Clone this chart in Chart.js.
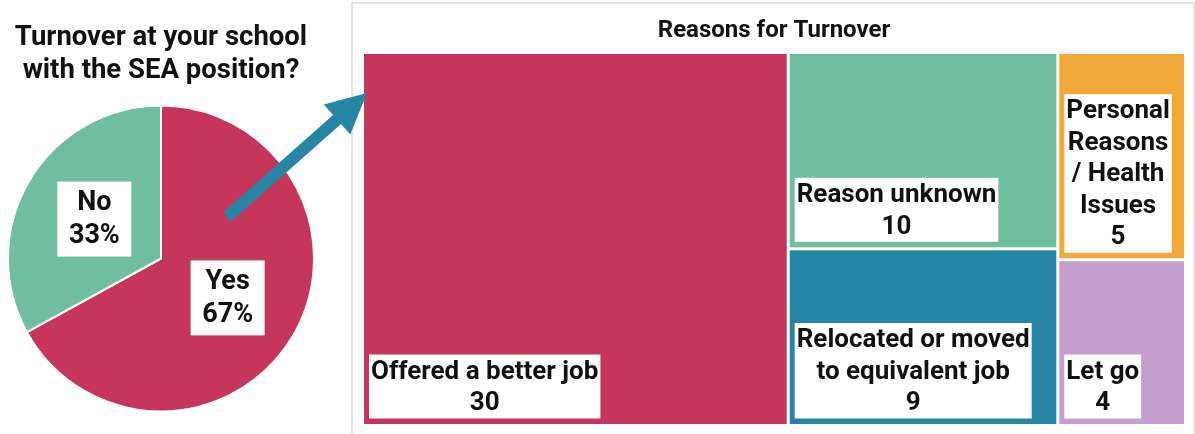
<!DOCTYPE html>
<html>
<head>
<meta charset="utf-8">
<script src="https://cdn.jsdelivr.net/npm/chart.js@4/dist/chart.umd.min.js"></script>
<style>
  body { margin: 0; background: #fff; }
  #pieBox { position: absolute; left: 0; top: 0; width: 380px; height: 434px; z-index: 2; }
  #treeBox { position: absolute; left: 340px; top: 0; width: 855px; height: 434px; z-index: 1; }
</style>
</head>
<body>
<div id="pieBox"><canvas id="pieChart"></canvas></div>
<div id="treeBox"><canvas id="treeChart"></canvas></div>
<script>
// pie: turnover yes / no (percent)
var turnoverLabels = ['Yes', 'No'];
var turnoverPercent = [67, 33];

// treemap: reasons for turnover (counts)
var reasonLabels = [
  ['Offered a better job'],
  ['Reason unknown'],
  ['Relocated or moved', 'to equivalent job'],
  ['Personal', 'Reasons', '/ Health', 'Issues'],
  ['Let go']
];
var reasonCounts = [30, 10, 9, 5, 4];

var RED = '#C5365A', GREEN = '#70BEA0', TEAL = '#2585A3', ORANGE = '#F1A93A', PURPLE = '#C49ECD';
var FONT = 'Roboto, "Liberation Sans", sans-serif';

Chart.defaults.font.family = FONT;
Chart.defaults.color = '#111';

// white label boxes drawn centered on each pie slice
var pieLabels = {
  id: 'pieLabels',
  afterDatasetsDraw: function (chart) {
    var ctx = chart.ctx;
    var meta = chart.getDatasetMeta(0);
    ctx.save();
    ctx.font = 'bold 27px ' + FONT;
    ctx.textAlign = 'center';
    ctx.textBaseline = 'middle';
    meta.data.forEach(function (arc, i) {
      var mid = (arc.startAngle + arc.endAngle) / 2;
      var r = arc.outerRadius * 0.506;
      var cx = arc.x + Math.cos(mid) * r;
      var cy = arc.y + Math.sin(mid) * r;
      var lines = [turnoverLabels[i], turnoverPercent[i] + '%'];
      var lh = 33;
      var w = 74, h = 75;
      ctx.fillStyle = '#fff';
      ctx.fillRect(cx - w / 2, cy - h / 2, w, h);
      ctx.fillStyle = '#111';
      lines.forEach(function (t, k) {
        ctx.fillText(t, cx, cy + (k - (lines.length - 1) / 2) * lh + 1);
      });
    });
    ctx.restore();
  }
};

// arrow pointing from the pie to the treemap
var arrowPlugin = {
  id: 'arrow',
  afterDraw: function (chart) {
    var ctx = chart.ctx;
    var tail = [227, 217], tip = [367, 93];
    var dx = tip[0] - tail[0], dy = tip[1] - tail[1];
    var len = Math.sqrt(dx * dx + dy * dy);
    var ux = dx / len, uy = dy / len, nx = -uy, ny = ux;
    var hw = 6, headLen = 40, headHw = 20;
    var bx = tip[0] - ux * headLen, by = tip[1] - uy * headLen;
    ctx.save();
    ctx.fillStyle = TEAL;
    ctx.beginPath();
    ctx.moveTo(tail[0] + nx * hw, tail[1] + ny * hw);
    ctx.lineTo(bx + nx * hw, by + ny * hw);
    ctx.lineTo(bx + nx * headHw, by + ny * headHw);
    ctx.lineTo(tip[0], tip[1]);
    ctx.lineTo(bx - nx * headHw, by - ny * headHw);
    ctx.lineTo(bx - nx * hw, by - ny * hw);
    ctx.lineTo(tail[0] - nx * hw, tail[1] - ny * hw);
    ctx.closePath();
    ctx.fill();
    ctx.restore();
  }
};

new Chart(document.getElementById('pieChart'), {
  type: 'pie',
  data: {
    labels: turnoverLabels,
    datasets: [{
      data: turnoverPercent,
      backgroundColor: [RED, GREEN],
      borderColor: '#fff',
      borderWidth: 2
    }]
  },
  options: {
    animation: false,
    responsive: true,
    maintainAspectRatio: false,
    layout: { padding: { left: 0, right: 58, top: 0, bottom: 21.5 } },
    plugins: {
      legend: { display: false },
      tooltip: { enabled: false },
      title: {
        display: true,
        text: ['Turnover at your school', 'with the SEA position?'],
        font: { size: 27.5, weight: 'bold' },
        lineHeight: 1.2,
        color: '#111',
        padding: { top: 22, bottom: 16.5 }
      }
    }
  },
  plugins: [pieLabels, arrowPlugin]
});

// squarified treemap layout, values sorted descending
function squarify(values, W, H) {
  var total = values.reduce(function (a, b) { return a + b; }, 0);
  var k = W * H / total;
  var items = values.map(function (v, i) { return { i: i, a: v * k }; });
  var out = [];
  var r = { x: 0, y: 0, w: W, h: H };
  function worst(row, side) {
    var s = row.reduce(function (a, b) { return a + b.a; }, 0);
    var t = s / side, m = 0;
    row.forEach(function (it) {
      var l = it.a / t;
      m = Math.max(m, t / l, l / t);
    });
    return m;
  }
  while (items.length) {
    var side = Math.min(r.w, r.h);
    var row = [items.shift()];
    while (items.length && worst(row.concat([items[0]]), side) <= worst(row, side)) row.push(items.shift());
    var s = row.reduce(function (a, b) { return a + b.a; }, 0);
    if (r.w >= r.h) {
      var cw = s / r.h, y = r.y;
      row.forEach(function (it) { var h = it.a / cw; out[it.i] = { x: r.x, y: y, w: cw, h: h }; y += h; });
      r = { x: r.x + cw, y: r.y, w: r.w - cw, h: r.h };
    } else {
      var rh = s / r.w, x = r.x;
      row.forEach(function (it) { var w = it.a / rh; out[it.i] = { x: x, y: r.y, w: w, h: rh }; x += w; });
      r = { x: r.x, y: r.y + rh, w: r.w, h: r.h - rh };
    }
  }
  return out;
}

var treePlugin = {
  id: 'treemap',
  beforeDraw: function (chart) {
    var ctx = chart.ctx;
    ctx.save();
    ctx.fillStyle = '#fff';
    ctx.fillRect(0, 0, chart.width, chart.height);
    ctx.strokeStyle = '#dcdcdc';
    ctx.lineWidth = 1.5;
    ctx.strokeRect(12, 3, 842, 500);
    ctx.restore();
  },
  afterDatasetsDraw: function (chart) {
    var ctx = chart.ctx, area = chart.chartArea;
    var sx = chart.scales.x, sy = chart.scales.y;
    var W = area.right - area.left, H = area.bottom - area.top;
    var cells = squarify(reasonCounts, W, H);
    var colors = chart.data.datasets[0].backgroundColor;
    var gap = 1.5, lh = 31.5;
    ctx.save();
    cells.forEach(function (c, i) {
      // layout units -> data values (0..100) -> pixels through the scales
      var x0 = sx.getPixelForValue(c.x / W * 100) + gap;
      var x1 = sx.getPixelForValue((c.x + c.w) / W * 100) - gap;
      var y0 = sy.getPixelForValue(c.y / H * 100) + gap;
      var y1 = sy.getPixelForValue((c.y + c.h) / H * 100) - gap;
      ctx.fillStyle = colors[i];
      ctx.fillRect(x0, y0, x1 - x0, y1 - y0);

      var lines = reasonLabels[i].concat([String(reasonCounts[i])]);
      ctx.font = 'bold 26px ' + FONT;
      var tw = 0;
      lines.forEach(function (t) { tw = Math.max(tw, ctx.measureText(t).width); });
      var bw = tw + 4, bh = lines.length * lh + 1;
      var bx = x0 + 5, by = y1 - 5.5 - bh;
      ctx.fillStyle = '#fff';
      ctx.fillRect(bx, by, bw, bh);
      ctx.fillStyle = '#111';
      ctx.textAlign = 'center';
      ctx.textBaseline = 'middle';
      lines.forEach(function (t, k) {
        ctx.fillText(t, bx + bw / 2, by + 1 + lh * (k + 0.5) + 1);
      });
    });
    ctx.restore();
  }
};

new Chart(document.getElementById('treeChart'), {
  type: 'scatter',
  data: {
    labels: reasonLabels,
    datasets: [{
      data: [],
      backgroundColor: [RED, GREEN, TEAL, ORANGE, PURPLE]
    }]
  },
  options: {
    animation: false,
    responsive: true,
    maintainAspectRatio: false,
    layout: { padding: { left: 22.5, right: 9.5, top: 0, bottom: 8.5 } },
    scales: {
      x: { type: 'linear', min: 0, max: 100, display: false },
      y: { type: 'linear', min: 0, max: 100, reverse: true, display: false }
    },
    plugins: {
      legend: { display: false },
      tooltip: { enabled: false },
      title: {
        display: true,
        text: 'Reasons for Turnover',
        font: { size: 24, weight: 'bold' },
        color: '#111',
        lineHeight: 1.2,
        padding: { top: 17, bottom: 6.7 }
      }
    }
  },
  plugins: [treePlugin]
});
</script>
</body>
</html>
